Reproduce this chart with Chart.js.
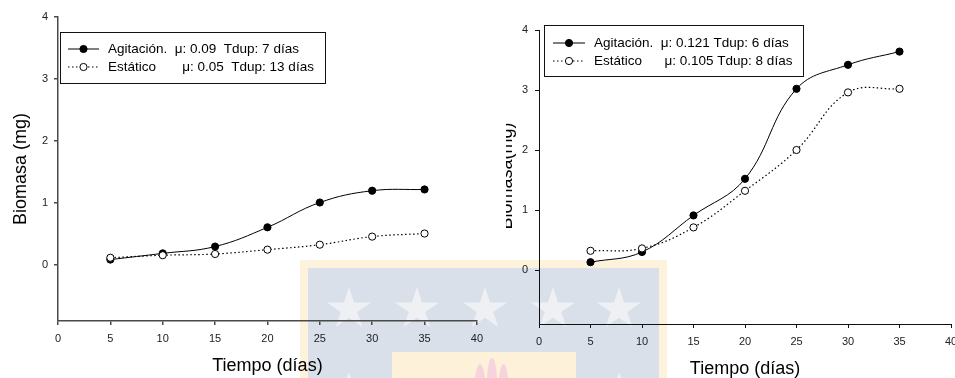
<!DOCTYPE html>
<html>
<head>
<meta charset="utf-8">
<script src="https://cdn.jsdelivr.net/npm/chart.js@4.4.1/dist/chart.umd.min.js"></script>
<style>
  html, body { margin: 0; padding: 0; background: #fff; }
  body { position: relative; width: 955px; height: 378px; overflow: hidden; }
  .emb { position: absolute; }
  .star {
    position: absolute; width: 46px; height: 44px; background: #eef0f4;
    clip-path: polygon(50% 0%, 61% 35%, 98% 35%, 68% 57%, 79% 91%, 50% 70%, 21% 91%, 32% 57%, 2% 35%, 39% 35%);
  }
  .flame { position: absolute; background: #f7d3de; border-radius: 50% 50% 45% 45% / 70% 70% 30% 30%; }
  canvas { position: absolute; top: 0; }
  #growthA { left: 0; }
  #growthB { left: 485px; }
</style>
</head>
<body>
<!-- faint background emblem -->
<div class="emb" style="left:300px;top:260px;width:367px;height:118px;background:#fdf2dc"></div>
<div class="emb" style="left:308px;top:268px;width:351px;height:110px;background:#d9e0ea"></div>
<div class="star" style="left:326px;top:287px"></div>
<div class="star" style="left:394px;top:287px"></div>
<div class="star" style="left:462px;top:287px"></div>
<div class="star" style="left:530px;top:287px"></div>
<div class="star" style="left:596px;top:287px"></div>
<div class="star" style="left:326px;top:372px"></div>
<div class="star" style="left:596px;top:372px"></div>
<div class="emb" style="left:392px;top:352px;width:184px;height:26px;background:#fdf1da"></div>
<div class="flame" style="left:475px;top:364px;width:10px;height:28px"></div>
<div class="flame" style="left:487px;top:358px;width:10px;height:34px"></div>
<div class="flame" style="left:499px;top:364px;width:9px;height:28px"></div>

<canvas id="growthA" width="490" height="378"></canvas>
<canvas id="growthB" width="480" height="378"></canvas>

<script>
// Sampling days and biomass (mg) per culture condition
const days = [5, 10, 15, 20, 25, 30, 35];

const agitadoA = [0.09, 0.19, 0.30, 0.61, 1.01, 1.20, 1.22];
const estaticoA = [0.12, 0.16, 0.18, 0.25, 0.33, 0.46, 0.51];

const agitadoB = [0.13, 0.30, 0.91, 1.52, 3.02, 3.42, 3.64];
const estaticoB = [0.32, 0.36, 0.71, 1.32, 2.00, 2.96, 3.02];

// Axis ticks and labels
const xTicks = [0, 5, 10, 15, 20, 25, 30, 35, 40];
const yTicks = [0, 1, 2, 3, 4];
const xTitle = 'Tiempo (días)';
const yTitleA = 'Biomasa (mg)';
const yTitleB = 'Biomasa(mg)';

const labelsA = ['Agitación.  μ: 0.09  Tdup: 7 días', 'Estático       μ: 0.05  Tdup: 13 días'];
const labelsB = ['Agitación.  μ: 0.121 Tdup: 6 días', 'Estático      μ: 0.105 Tdup: 8 días'];

const FONT = '"Liberation Sans", Arial, Helvetica, sans-serif';

function points(values) {
  return days.map((d, i) => ({ x: d, y: values[i] }));
}

function datasets(agit, est, labels) {
  return [
    {
      label: labels[0], data: points(agit), order: 1,
      borderColor: '#000', borderWidth: 1, tension: 0.4, fill: false,
      pointRadius: 3.6, pointBackgroundColor: '#000', pointBorderColor: '#000', pointBorderWidth: 1
    },
    {
      label: labels[1], data: points(est), order: 0,
      borderColor: '#000', borderWidth: 1.2, borderDash: [1.5, 2.5], tension: 0.4, fill: false,
      pointRadius: 3.6, pointBackgroundColor: '#fff', pointBorderColor: '#000', pointBorderWidth: 1
    }
  ];
}

// Boxed legend drawn inside the plot area
const boxLegend = {
  id: 'boxLegend',
  afterDraw(chart, args, o) {
    const ctx = chart.ctx;
    ctx.save();
    ctx.fillStyle = '#fff';
    ctx.fillRect(o.x, o.y, o.w, o.h);
    ctx.strokeStyle = '#111';
    ctx.lineWidth = 1;
    ctx.strokeRect(o.x + 0.5, o.y + 0.5, o.w, o.h);
    [0, 1].forEach((i, row) => {
      const ds = chart.data.datasets[i];
      const ry = o.rowY[row];
      ctx.setLineDash(ds.borderDash || []);
      ctx.lineWidth = ds.borderWidth;
      ctx.strokeStyle = ds.borderColor;
      ctx.beginPath();
      ctx.moveTo(o.line0, ry);
      ctx.lineTo(o.line1, ry);
      ctx.stroke();
      ctx.setLineDash([]);
      ctx.beginPath();
      ctx.arc((o.line0 + o.line1) / 2, ry, ds.pointRadius, 0, Math.PI * 2);
      ctx.fillStyle = ds.pointBackgroundColor;
      ctx.fill();
      ctx.lineWidth = 1;
      ctx.strokeStyle = ds.pointBorderColor;
      ctx.stroke();
      ctx.fillStyle = '#000';
      ctx.font = o.font;
      ctx.textAlign = 'left';
      ctx.textBaseline = 'middle';
      ctx.fillText(ds.label, o.textX, ry);
    });
    ctx.restore();
  }
};

// Vertical axis title cut by the panel edge
const edgeTitle = {
  id: 'edgeTitle',
  afterDraw(chart, args, o) {
    if (!o.text) return;
    const ctx = chart.ctx;
    ctx.save();
    ctx.beginPath();
    ctx.rect(o.clipLeft, 0, 200, chart.height);
    ctx.clip();
    ctx.translate(o.x, o.y);
    ctx.rotate(-Math.PI / 2);
    ctx.font = o.font;
    ctx.fillStyle = '#000';
    ctx.textAlign = 'center';
    ctx.textBaseline = 'alphabetic';
    ctx.fillText(o.text, 0, 0);
    ctx.restore();
  }
};

function build(id, agit, est, labels, cfg) {
  const axisStyle = {
    grid: { drawOnChartArea: false, drawTicks: true, tickLength: 4, color: cfg.axisColor, lineWidth: cfg.axisWidth },
    border: { display: true, color: cfg.axisColor, width: cfg.axisWidth }
  };
  return new Chart(document.getElementById(id), {
    type: 'line',
    data: { datasets: datasets(agit, est, labels) },
    plugins: [boxLegend, edgeTitle],
    options: {
      responsive: false,
      animation: false,
      devicePixelRatio: 1,
      layout: { padding: cfg.padding },
      plugins: {
        legend: { display: false },
        tooltip: { enabled: false },
        boxLegend: cfg.legend,
        edgeTitle: cfg.edgeTitle || {}
      },
      scales: {
        x: {
          type: 'linear', min: 0, max: 40,
          afterBuildTicks: s => { s.ticks = xTicks.map(v => ({ value: v })); },
          afterFit: s => { s.height = cfg.xHeight; },
          ticks: { autoSkip: false, maxRotation: 0, padding: 7, color: '#222', font: { family: FONT, size: 11 } },
          title: {
            display: true, text: xTitle, color: '#000',
            font: { family: FONT, size: 18, lineHeight: cfg.xTitleLH },
            padding: { top: 0, bottom: cfg.xTitlePad }
          },
          ...axisStyle
        },
        y: {
          type: 'linear', min: -0.9, max: 4,
          afterBuildTicks: s => { s.ticks = yTicks.map(v => ({ value: v })); },
          afterFit: s => { s.width = cfg.yWidth; },
          ticks: { padding: cfg.yTickPad, color: '#222', font: { family: FONT, size: 11 } },
          title: {
            display: !!cfg.yTitle, text: cfg.yTitle || '', color: '#000',
            font: { family: FONT, size: 18 },
            padding: { top: 10, bottom: 0 }
          },
          ...axisStyle
        }
      }
    }
  });
}

build('growthA', agitadoA, estaticoA, labelsA, {
  padding: { top: 17, right: 10, bottom: 0, left: 0 },
  xHeight: 57, yWidth: 58, yTickPad: 6,
  xTitleLH: 1.2, xTitlePad: 1,
  yTitle: yTitleA,
  axisColor: '#4a4a4a', axisWidth: 1.5,
  legend: { x: 60, y: 32, w: 265, h: 51, rowY: [49, 67], line0: 68, line1: 99, textX: 108, font: '13.5px ' + FONT }
});

build('growthB', agitadoB, estaticoB, labelsB, {
  padding: { top: 30, right: 14, bottom: 0, left: 0 },
  xHeight: 54, yWidth: 54, yTickPad: 7,
  xTitleLH: 1.0, xTitlePad: 0,
  yTitle: null,
  axisColor: '#111', axisWidth: 1,
  legend: { x: 59, y: 25, w: 259, h: 51, rowY: [43, 61], line0: 68, line1: 100, textX: 109, font: '13.5px ' + FONT }, 
  edgeTitle: { text: yTitleB, x: 27, y: 176, clipLeft: 21, font: '18px ' + FONT }
});
</script>
</body>
</html>
